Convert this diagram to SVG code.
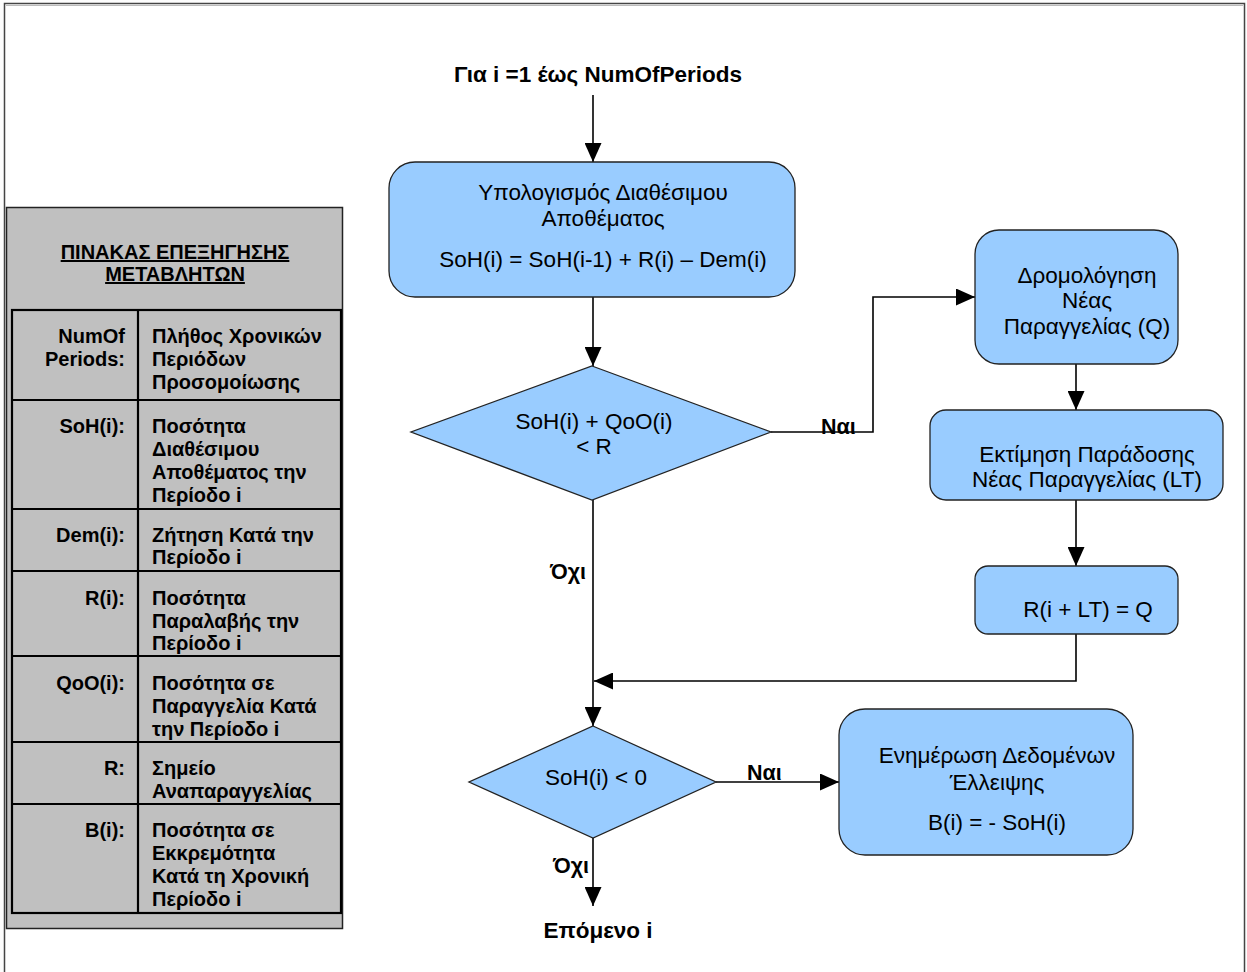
<svg xmlns="http://www.w3.org/2000/svg" width="1247" height="972" viewBox="0 0 1247 972">
<defs>
<marker id="arr" markerUnits="userSpaceOnUse" markerWidth="19" markerHeight="17" viewBox="0 0 19 17" refX="19" refY="8.5" orient="auto">
<path d="M0,0 L19,8.5 L0,17 Z" fill="#000"/>
</marker>
<style>
.box{fill:#99ccff;stroke:#222;stroke-width:1.3}
.t{font-family:"Liberation Sans",Arial,sans-serif;font-size:22.5px;fill:#000;text-anchor:middle}
.b{font-family:"Liberation Sans",Arial,sans-serif;font-size:22.5px;font-weight:bold;fill:#000;text-anchor:middle}
.lb{font-family:"Liberation Sans",Arial,sans-serif;font-size:21.5px;font-weight:bold;fill:#000}
.tk{font-family:"Liberation Sans",Arial,sans-serif;font-size:20px;font-weight:bold;fill:#000}
.tr{text-anchor:end}
.c{fill:none;stroke:#000;stroke-width:1.6}
.grid{fill:none;stroke:#000;stroke-width:2.2}
</style>
</defs>
<rect x="0" y="0" width="1247" height="972" fill="#fdfdfd"/>
<rect x="4.5" y="3.5" width="1240" height="990" fill="#fff" stroke="#444" stroke-width="1.5"/>
<line x1="6" y1="5.5" x2="1243" y2="5.5" stroke="#bbb" stroke-width="1"/>

<g id="legend">
<rect x="6.5" y="207.5" width="336" height="721" fill="#c0c0c0" stroke="#222" stroke-width="1.5"/>
<text class="tk" x="175" y="259" text-anchor="middle" text-decoration="underline">ΠΙΝΑΚΑΣ ΕΠΕΞΗΓΗΣΗΣ</text>
<text class="tk" x="175" y="281" text-anchor="middle" text-decoration="underline">ΜΕΤΑΒΛΗΤΩΝ</text>
<rect class="grid" x="12" y="310" width="329" height="603"/>
<line class="grid" x1="138" y1="310" x2="138" y2="913"/>
<line class="grid" x1="12" y1="400" x2="341" y2="400"/>
<line class="grid" x1="12" y1="509" x2="341" y2="509"/>
<line class="grid" x1="12" y1="571" x2="341" y2="571"/>
<line class="grid" x1="12" y1="656" x2="341" y2="656"/>
<line class="grid" x1="12" y1="742" x2="341" y2="742"/>
<line class="grid" x1="12" y1="804" x2="341" y2="804"/>
<text class="tk tr" x="125" y="343">NumOf</text>
<text class="tk tr" x="125" y="366">Periods:</text>
<text class="tk" x="152" y="343">Πλήθος Χρονικών</text>
<text class="tk" x="152" y="366">Περιόδων</text>
<text class="tk" x="152" y="389">Προσομοίωσης</text>
<text class="tk tr" x="125" y="433">SoH(i):</text>
<text class="tk" x="152" y="433">Ποσότητα</text>
<text class="tk" x="152" y="456">Διαθέσιμου</text>
<text class="tk" x="152" y="479">Αποθέματος την</text>
<text class="tk" x="152" y="502">Περίοδο i</text>
<text class="tk tr" x="125" y="542">Dem(i):</text>
<text class="tk" x="152" y="542">Ζήτηση Κατά την</text>
<text class="tk" x="152" y="564">Περίοδο i</text>
<text class="tk tr" x="125" y="605">R(i):</text>
<text class="tk" x="152" y="605">Ποσότητα</text>
<text class="tk" x="152" y="628">Παραλαβής την</text>
<text class="tk" x="152" y="650">Περίοδο i</text>
<text class="tk tr" x="125" y="690">QoO(i):</text>
<text class="tk" x="152" y="690">Ποσότητα σε</text>
<text class="tk" x="152" y="713">Παραγγελία Κατά</text>
<text class="tk" x="152" y="736">την Περίοδο i</text>
<text class="tk tr" x="125" y="775">R:</text>
<text class="tk" x="152" y="775">Σημείο</text>
<text class="tk" x="152" y="798">Αναπαραγγελίας</text>
<text class="tk tr" x="125" y="837">B(i):</text>
<text class="tk" x="152" y="837">Ποσότητα σε</text>
<text class="tk" x="152" y="860">Εκκρεμότητα</text>
<text class="tk" x="152" y="883">Κατά τη Χρονική</text>
<text class="tk" x="152" y="906">Περίοδο i</text>
</g>

<g id="connectors">
<line class="c" x1="593" y1="95" x2="593" y2="162" marker-end="url(#arr)"/>
<line class="c" x1="593" y1="297" x2="593" y2="366" marker-end="url(#arr)"/>
<polyline class="c" points="771,432 873,432 873,297 975,297" marker-end="url(#arr)"/>
<line class="c" x1="1076" y1="364" x2="1076" y2="410" marker-end="url(#arr)"/>
<line class="c" x1="1076" y1="500" x2="1076" y2="566" marker-end="url(#arr)"/>
<polyline class="c" points="1076,634 1076,681 594,681" marker-end="url(#arr)"/>
<line class="c" x1="593" y1="500" x2="593" y2="726" marker-end="url(#arr)"/>
<line class="c" x1="716" y1="782" x2="839" y2="782" marker-end="url(#arr)"/>
<line class="c" x1="593" y1="838" x2="593" y2="906" marker-end="url(#arr)"/>
<text class="lb" x="821" y="434">Ναι</text>
<text class="lb" x="550" y="579">Όχι</text>
<text class="lb" x="747" y="780">Ναι</text>
<text class="lb" x="553" y="873">Όχι</text>
</g>

<g id="start"><text class="b" x="598" y="82">Για i =1 έως NumOfPeriods</text></g>

<g id="calc">
<rect class="box" x="389" y="162" width="406" height="135" rx="26"/>
<text class="t" x="603" y="200">Υπολογισμός Διαθέσιμου</text>
<text class="t" x="603" y="226">Αποθέματος</text>
<text class="t" x="603" y="267">SoH(i) = SoH(i-1) + R(i) – Dem(i)</text>
</g>

<g id="dec1">
<polygon class="box" points="592,366 771,432 592,500 411,432"/>
<text class="t" x="594" y="429">SoH(i) + QoO(i)</text>
<text class="t" x="594" y="454">&lt; R</text>
</g>

<g id="order">
<rect class="box" x="975" y="230" width="203" height="134" rx="24"/>
<text class="t" x="1087" y="283">Δρομολόγηση</text>
<text class="t" x="1087" y="308">Νέας</text>
<text class="t" x="1087" y="334">Παραγγελίας (Q)</text>
</g>

<g id="estimate">
<rect class="box" x="930" y="410" width="293" height="90" rx="16"/>
<text class="t" x="1087" y="462">Εκτίμηση Παράδοσης</text>
<text class="t" x="1087" y="487">Νέας Παραγγελίας (LT)</text>
</g>

<g id="receipt">
<rect class="box" x="975" y="566" width="203" height="68" rx="13"/>
<text class="t" x="1088" y="617">R(i + LT) = Q</text>
</g>

<g id="dec2">
<polygon class="box" points="593,726 716,782 593,838 469,782"/>
<text class="t" x="596" y="785">SoH(i) &lt; 0</text>
</g>

<g id="backorder">
<rect class="box" x="839" y="709" width="294" height="146" rx="26"/>
<text class="t" x="997" y="763">Ενημέρωση Δεδομένων</text>
<text class="t" x="997" y="790">Έλλειψης</text>
<text class="t" x="997" y="830">B(i) = - SoH(i)</text>
</g>

<g id="next"><text class="b" x="598" y="938">Επόμενο i</text></g>
</svg>
